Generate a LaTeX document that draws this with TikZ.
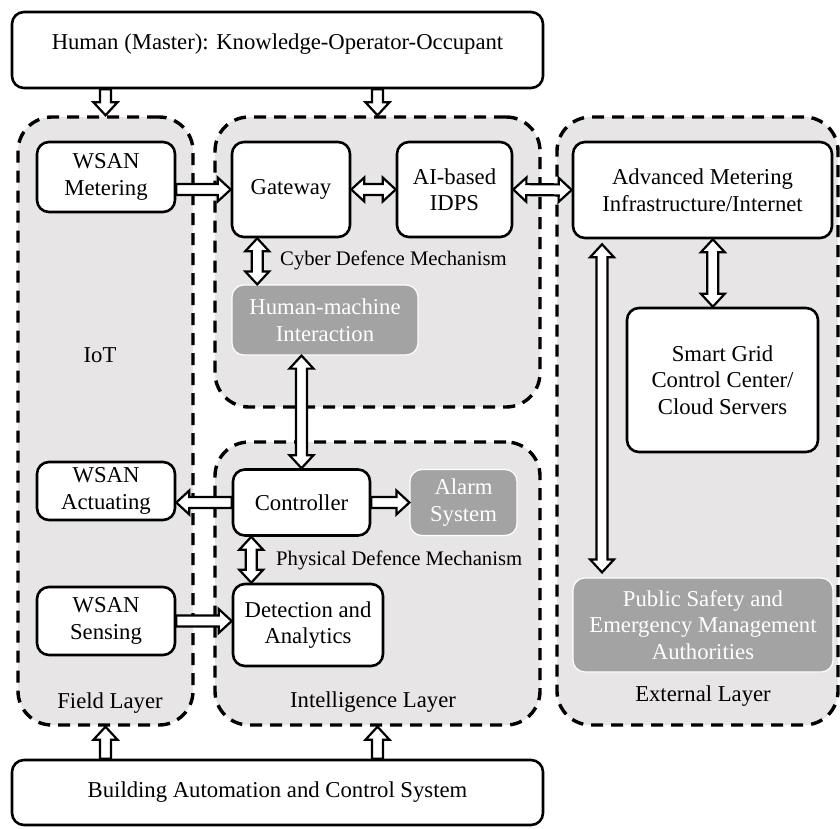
\documentclass[tikz,border=0pt]{standalone}
\usepackage{fontspec}
\setmainfont{Liberation Serif}
\usetikzlibrary{calc}

\definecolor{laygray}{HTML}{E7E5E5}
\definecolor{boxgray}{HTML}{A3A3A3}

% sizes of the hollow block arrows
\def\arShaft{5.5pt}
\def\arHead{12pt}
\def\arLen{13pt}

% single-headed hollow arrow from #2 to #3 (full coordinates)
\newcommand\onearrow[3][]{%
  \path #2 coordinate (aS) #3 coordinate (aT);
  \path ($(aT)!\arLen!(aS)$) coordinate (aH);
  \draw[fatarrow,#1] ($(aS)!\arShaft!90:(aT)$) -- ($(aH)!\arShaft!-90:(aS)$)
    -- ($(aH)!\arHead!-90:(aS)$) -- (aT) -- ($(aH)!\arHead!90:(aS)$)
    -- ($(aH)!\arShaft!90:(aS)$) -- ($(aS)!\arShaft!-90:(aT)$) -- cycle;
}
% double-headed hollow arrow between #2 and #3
\newcommand\twoarrow[3][]{%
  \path #2 coordinate (aS) #3 coordinate (aT);
  \path ($(aT)!\arLen!(aS)$) coordinate (aH) ($(aS)!\arLen!(aT)$) coordinate (aG);
  \draw[fatarrow,#1] (aS) -- ($(aG)!\arHead!90:(aT)$) -- ($(aG)!\arShaft!90:(aT)$)
    -- ($(aH)!\arShaft!-90:(aS)$) -- ($(aH)!\arHead!-90:(aS)$) -- (aT)
    -- ($(aH)!\arHead!90:(aS)$) -- ($(aH)!\arShaft!90:(aS)$)
    -- ($(aG)!\arShaft!-90:(aT)$) -- ($(aG)!\arHead!-90:(aT)$) -- cycle;
}

\tikzset{
  mainfont/.style={font=\fontsize{22.7}{26.5}\selectfont},
  layer/.style={draw, line width=3.4pt, dash pattern=on 12pt off 8pt,
    fill=laygray, rounded corners=34pt, inner sep=0pt},
  box/.style={draw, line width=2.6pt, fill=white, rounded corners=12pt,
    inner sep=0pt, align=center, mainfont},
  graybox/.style={draw=white, line width=1.2pt, fill=boxgray, text=white,
    rounded corners=12pt, inner sep=0pt, align=center, mainfont},
  lbl/.style={inner sep=0pt, font=\fontsize{20.7}{24}\selectfont},
  layername/.style={inner sep=0pt, mainfont},
  fatarrow/.style={draw=black, fill=white, line width=2.2pt, line join=miter},
}

\begin{document}
\begin{tikzpicture}[x=1pt,y=-1pt]
\useasboundingbox (0,0) rectangle (840,828);
\fill[white] (0,0) rectangle (840,828);

% layer containers
\node[layer, minimum width=175pt, minimum height=608pt] (field) at (105.5,421) {};
\node[layer, minimum width=325pt, minimum height=290pt] (cyber) at (377.5,262) {};
\node[layer, minimum width=325pt, minimum height=283pt] (intel) at (377.5,583.5) {};
\node[layer, minimum width=281pt, minimum height=608pt] (ext) at (697.5,421) {};

% human and building automation boxes
\node[box, minimum width=531pt, minimum height=76pt, text depth=16pt] (human) at (277.5,50)
  {Human (Master): Knowledge-Operator-Occupant};
\node[box, minimum width=531pt, minimum height=65pt] (bacs) at (277.5,792.5)
  {Building Automation and Control System};

% field layer
\node[box, minimum width=138pt, minimum height=70pt] (wmeter) at (106,177) {WSAN\\Metering};
\node[box, minimum width=138pt, minimum height=58pt] (wact) at (106,491) {WSAN\\Actuating};
\node[box, minimum width=138pt, minimum height=68pt] (wsens) at (106,621) {WSAN\\Sensing};
\node[layername] (iot) at (100,355) {IoT};
\node[layername] (fieldname) at (110,703) {Field Layer};

% cyber part of the intelligence layer
\node[box, minimum width=118pt, minimum height=95pt] (gw) at (291,189.5) {Gateway};
\node[box, minimum width=115pt, minimum height=95pt] (idps) at (454.5,189.5) {AI-based\\IDPS};
\node[lbl, anchor=west] (cyberlbl) at (280,260) {Cyber Defence Mechanism};
\node[graybox, minimum width=186pt, minimum height=70pt] (hmi) at (325,320) {Human-machine\\Interaction};

% physical part of the intelligence layer
\node[box, minimum width=137pt, minimum height=66pt] (ctrl) at (301.5,502.5) {Controller};
\node[graybox, minimum width=107pt, minimum height=66pt] (alarm) at (463.5,502.5) {Alarm\\System};
\node[lbl, anchor=west] (physlbl) at (276,560) {Physical Defence Mechanism};
\node[box, minimum width=150pt, minimum height=82pt] (det) at (308,625) {Detection and\\Analytics};
\node[layername] (intelname) at (373,702) {Intelligence Layer};

% external layer
\node[box, minimum width=259pt, minimum height=96pt] (ami) at (702.5,190)
  {Advanced Metering\\Infrastructure/Internet};
\node[box, minimum width=191pt, minimum height=144pt] (sg) at (722.5,380)
  {Smart Grid\\Control Center/\\Cloud Servers};
\node[graybox, minimum width=260pt, minimum height=94pt] (psafety) at (703,625)
  {Public Safety and\\Emergency Management\\Authorities};
\node[layername] (extname) at (703,696) {External Layer};

% links
\onearrow{(human.south -| field.north)}{(field.north)}
\onearrow{(human.south -| cyber.north)}{(cyber.north)}
\onearrow{(bacs.north -| field.south)}{(field.south)}
\onearrow{(bacs.north -| intel.south)}{(intel.south)}

\onearrow{(wmeter.east |- gw.west)}{(gw.west)}
\twoarrow{(gw.east)}{(idps.west)}
\twoarrow{(idps.east)}{(ami.west)}
\coordinate (gwlow) at ($(gw.south west)!0.22!(gw.south east)$);
\twoarrow{(gwlow)}{(gwlow |- hmi.north)}
\twoarrow{(hmi.south -| ctrl.north)}{(ctrl.north)}

\onearrow{(ctrl.west)}{(wact.east |- ctrl.west)}
\onearrow{(ctrl.east)}{(alarm.west)}
\coordinate (ctrllow) at ($(ctrl.south west)!0.14!(ctrl.south east)$);
\twoarrow{(ctrllow)}{(ctrllow |- det.north)}
\onearrow{(wsens.east)}{(det.west |- wsens.east)}

\coordinate (sgtop) at ($(sg.north west)!0.45!(sg.north east)$);
\twoarrow{(sgtop |- ami.south)}{(sgtop)}
\coordinate (amilow) at ($(ami.south west)!0.116!(ami.south east)$);
\twoarrow{([yshift=-5pt]amilow)}{([yshift=5pt]amilow |- psafety.north)}
\end{tikzpicture}
\end{document}
